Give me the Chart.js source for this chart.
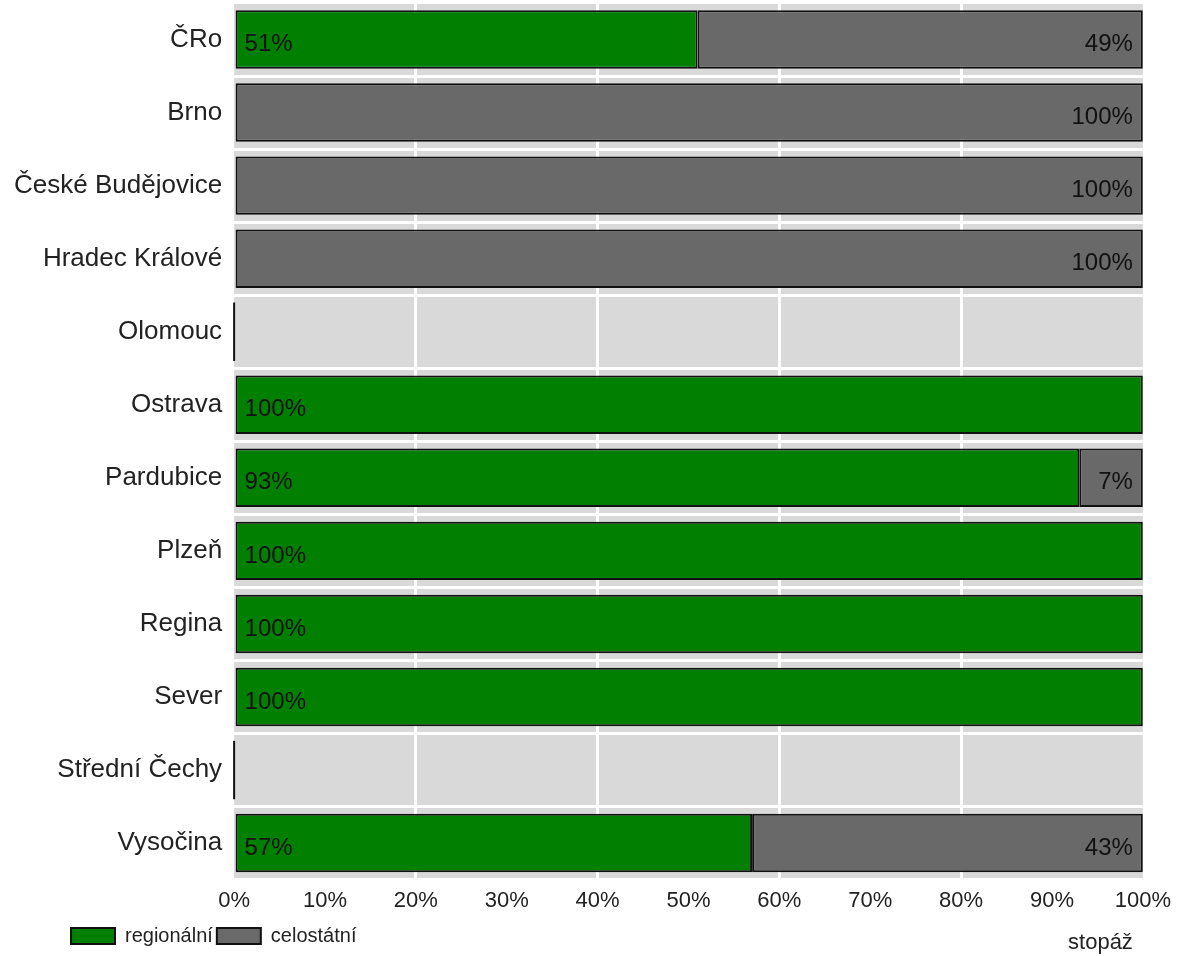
<!DOCTYPE html>
<html>
<head>
<meta charset="utf-8">
<script src="https://cdn.jsdelivr.net/npm/chart.js@4/dist/chart.umd.min.js"></script>
<style>
  html, body { margin: 0; padding: 0; background: #fff; }
  #wrap { width: 1179px; height: 956px; position: relative; }
</style>
</head>
<body>
<div id="wrap"><canvas id="stopaz"></canvas></div>
<script>
const stations = ['ČRo', 'Brno', 'České Budějovice', 'Hradec Králové', 'Olomouc', 'Ostrava',
  'Pardubice', 'Plzeň', 'Regina', 'Sever', 'Střední Čechy', 'Vysočina'];
const regionalni = [51, 0, 0, 0, 0, 100, 93, 100, 100, 100, 0, 57];
const celostatni = [49, 100, 100, 100, 0, 0, 7, 0, 0, 0, 0, 43];
const xTicks = [0, 10, 20, 30, 40, 50, 60, 70, 80, 90, 100];

const FONT = "'Liberation Sans', Arial, sans-serif";

// svetle sede pozadi plochy grafu
const plotBg = {
  id: 'plotBg',
  beforeDraw(chart) {
    const a = chart.chartArea, ctx = chart.ctx;
    ctx.save();
    ctx.fillStyle = '#d9d9d9';
    ctx.fillRect(a.left, a.top, a.right - a.left, a.bottom - a.top);
    ctx.restore();
  },
  afterLayout(chart) {
    // posun legendy doprava jako v puvodnim grafu
    if (chart.legend) chart.legend.left = 67;
  }
};

// popisky hodnot v pruzich + nulove pruhy
const valueLabels = {
  id: 'valueLabels',
  afterDatasetsDraw(chart) {
    const ctx = chart.ctx;
    const x0 = chart.scales.x.getPixelForValue(0);
    ctx.save();
    ctx.font = '24px ' + FONT;
    ctx.fillStyle = '#111';
    ctx.textBaseline = 'middle';
    chart.data.datasets.forEach((ds, di) => {
      const meta = chart.getDatasetMeta(di);
      meta.data.forEach((el, i) => {
        const v = ds.data[i];
        const p = el.getProps(['x', 'y', 'base', 'height'], true);
        if (di === 0 && v === 0 && celostatni[i] === 0) {
          ctx.strokeStyle = '#111';
          ctx.lineWidth = 2;
          ctx.beginPath();
          ctx.moveTo(x0, p.y - p.height / 2);
          ctx.lineTo(x0, p.y + p.height / 2);
          ctx.stroke();
        }
        if (!v) return;
        if (di === 0) {
          ctx.textAlign = 'left';
          ctx.fillText(v + '%', Math.min(p.x, p.base) + 9, p.y + 5);
        } else {
          ctx.textAlign = 'right';
          ctx.fillText(v + '%', Math.max(p.x, p.base) - 10, p.y + 5);
        }
      });
    });
    // nazev osy x
    const lg = chart.legend;
    ctx.font = '22px ' + FONT;
    ctx.fillStyle = '#222';
    ctx.textAlign = 'right';
    ctx.fillText('stopáž', chart.chartArea.right - 10, lg.top + lg.height / 2 + 4);
    ctx.restore();
  }
};

new Chart(document.getElementById('stopaz').getContext('2d'), {
  type: 'bar',
  data: {
    labels: stations,
    datasets: [
      { label: 'regionální', data: regionalni, backgroundColor: '#007f00' },
      { label: 'celostátní', data: celostatni, backgroundColor: '#696969' }
    ]
  },
  options: {
    indexAxis: 'y',
    responsive: true,
    maintainAspectRatio: false,
    animation: false,
    datasets: {
      bar: {
        borderColor: '#111',
        borderWidth: 2,
        borderSkipped: false,
        categoryPercentage: 0.8,
        barPercentage: 1
      }
    },
    layout: { padding: { top: 3, right: 36, left: 2, bottom: 0 } },
    scales: {
      x: {
        stacked: true,
        min: 0,
        max: 100,
        afterBuildTicks(scale) { scale.ticks = xTicks.map(v => ({ value: v })); },
        border: { display: false },
        grid: {
          drawTicks: false,
          lineWidth: 3,
          color: c => (c.tick && c.tick.value % 20 === 0 && c.tick.value > 0 && c.tick.value < 100) ? '#ffffff' : 'rgba(0,0,0,0)'
        },
        ticks: {
          padding: 8,
          color: '#222',
          font: { family: FONT, size: 22 },
          callback: v => v + '%'
        }
      },
      y: {
        stacked: true,
        afterFit(scale) { scale.paddingTop = 0; scale.paddingBottom = 0; },
        border: { display: false },
        grid: { offset: true, drawTicks: false, lineWidth: 3, color: '#ffffff' },
        ticks: {
          padding: 12,
          color: '#222',
          font: { family: FONT, size: 26 }
        }
      }
    },
    plugins: {
      legend: {
        position: 'bottom',
        align: 'start',
        labels: {
          boxWidth: 44,
          boxHeight: 16,
          padding: 4,
          color: '#222',
          font: { family: FONT, size: 20 }
        }
      },
      tooltip: { enabled: false }
    }
  },
  plugins: [plotBg, valueLabels]
});
</script>
</body>
</html>
